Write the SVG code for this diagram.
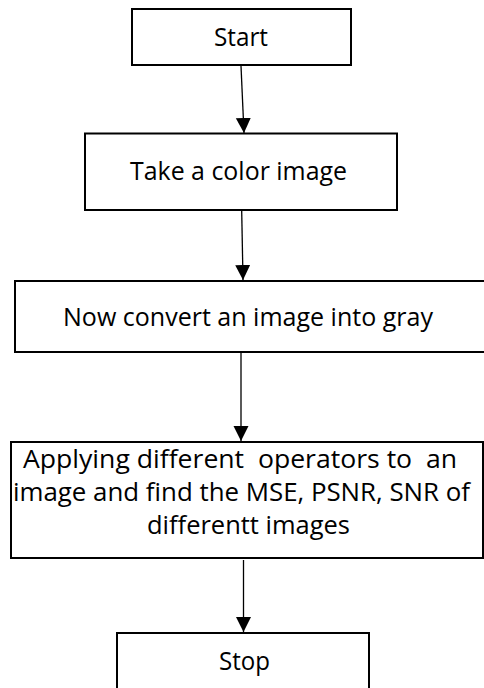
<svg xmlns="http://www.w3.org/2000/svg" width="484" height="688" viewBox="0 0 484 688">
  <style>
    .box { fill: #ffffff; stroke: #000000; stroke-width: 2; }
    .lbl { font-family: "Open Sans", "Liberation Sans", sans-serif; font-size: 25px; fill: #000000; text-anchor: middle; white-space: pre; }
    .conn { stroke: #000000; stroke-width: 1.3; fill: none; marker-end: url(#arrow); }
  </style>
  <defs>
    <marker id="arrow" markerUnits="userSpaceOnUse" markerWidth="16" markerHeight="16" refX="15" refY="7.5" orient="auto">
      <path d="M0,0 L15,7.5 L0,15 Z" fill="#000000"/>
    </marker>
  </defs>
  <rect width="484" height="688" fill="#ffffff"/>

  <g id="connectors">
    <line class="conn" x1="241" y1="66" x2="244" y2="133"/>
    <line class="conn" x1="241.7" y1="211" x2="243" y2="280"/>
    <line class="conn" x1="241" y1="353" x2="241" y2="441"/>
    <line class="conn" x1="243.5" y1="560" x2="243.5" y2="632"/>
  </g>

  <g id="start">
    <rect class="box" x="132" y="9" width="219" height="56"/>
    <text class="lbl" x="241" y="46" textLength="54" lengthAdjust="spacingAndGlyphs">Start</text>
  </g>

  <g id="take">
    <rect class="box" x="85" y="133.5" width="312" height="76.5"/>
    <text class="lbl" x="238.5" y="180" textLength="217" lengthAdjust="spacingAndGlyphs">Take a color image</text>
  </g>

  <g id="convert">
    <rect class="box" x="15" y="281" width="480" height="71"/>
    <text class="lbl" x="248" y="326" textLength="370" lengthAdjust="spacingAndGlyphs">Now convert an image into gray</text>
  </g>

  <g id="apply">
    <rect class="box" x="11" y="442" width="472" height="116"/>
    <text class="lbl" x="240" y="468" textLength="434" lengthAdjust="spacingAndGlyphs">Applying different  operators to  an</text>
    <text class="lbl" x="241.5" y="501" textLength="457" lengthAdjust="spacingAndGlyphs">image and find the MSE, PSNR, SNR of</text>
    <text class="lbl" x="248.5" y="534" textLength="203" lengthAdjust="spacingAndGlyphs">differentt images</text>
  </g>

  <g id="stop">
    <rect class="box" x="117" y="633" width="252" height="70"/>
    <text class="lbl" x="244.5" y="670" textLength="51" lengthAdjust="spacingAndGlyphs">Stop</text>
  </g>
</svg>
